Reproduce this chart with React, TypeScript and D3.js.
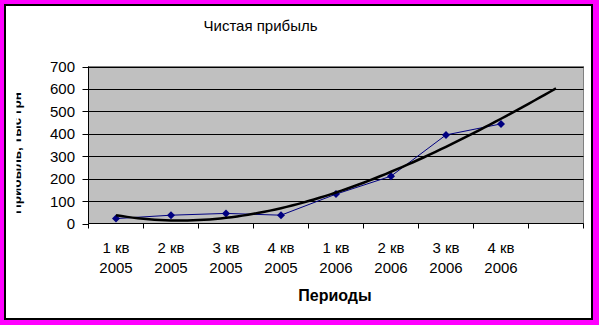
import React from "react";
import * as d3 from "d3";

const categories = ["1 кв|2005", "2 кв|2005", "3 кв|2005", "4 кв|2005", "1 кв|2006", "2 кв|2006", "3 кв|2006", "4 кв|2006", ""];
const profit = [22, 37, 45, 37, 131, 211, 395, 444];
const yTicks = [0, 100, 200, 300, 400, 500, 600, 700];
const chartTitle = "Чистая прибыль";
const xTitle = "Периоды";
const yTitle = "Прибыль, тыс грн";

// cubic least-squares trendline (like Excel polynomial, order 3), forecast 1 period forward
function polyFit(xs: number[], ys: number[], order: number): number[] {
  const n = order + 1;
  const A: number[][] = [];
  for (let i = 0; i < n; i++) {
    const row: number[] = [];
    for (let j = 0; j < n; j++) row.push(d3.sum(xs, (x) => Math.pow(x, i + j)));
    row.push(d3.sum(xs, (x, k) => Math.pow(x, i) * ys[k]));
    A.push(row);
  }
  for (let c = 0; c < n; c++) {
    let p = c;
    for (let r = c + 1; r < n; r++) if (Math.abs(A[r][c]) > Math.abs(A[p][c])) p = r;
    [A[c], A[p]] = [A[p], A[c]];
    for (let r = 0; r < n; r++) {
      if (r === c) continue;
      const f = A[r][c] / A[c][c];
      for (let k = c; k <= n; k++) A[r][k] -= f * A[c][k];
    }
  }
  return A.map((row, i) => row[n] / row[i]);
}

export default function App() {
  const W = 599, H = 325;
  const left = 88.5, right = 583.5, top = 66.5, bottom = 223.5;
  const x = d3.scaleBand<string>().domain(categories.map((_, i) => String(i))).range([left, right]);
  const cx = (i: number) => x(String(i))! + x.bandwidth() / 2;
  const xLin = d3.scaleLinear().domain([1, 2]).range([cx(0), cx(1)]);
  const y = d3.scaleLinear().domain([0, 700]).range([bottom, top]);

  const xs = profit.map((_, i) => i + 1);
  const coef = polyFit(xs, profit, 3);
  const evalP = (t: number) => coef.reduce((s, c, i) => s + c * Math.pow(t, i), 0);
  const trendPts: [number, number][] = d3.range(1, 9.0001, 0.1).map((t) => [xLin(t), y(evalP(t))]);
  const trendLine = d3.line()(trendPts) || "";
  const dataLine = d3.line<number>().x((_, i) => cx(i)).y((d) => y(d))(profit) || "";

  const font = "Arial, 'Liberation Sans', sans-serif";
  const ds = 4;

  return (
    <div style={{ position: "fixed", left: 0, top: 0, width: W, height: H }}>
      <svg width={W} height={H} style={{ display: "block" }} fontFamily={font}>
        <defs>
          <clipPath id="ytclip">
            <rect x={16.5} y={0} width={40} height={H} />
          </clipPath>
        </defs>
        <rect x={0} y={0} width={W} height={H} fill="#FF00FF" />
        <rect x={5} y={5} width={587} height={314} fill="#fff" stroke="#000" strokeWidth={2} />
        <text x={260.5} y={30.5} fontSize={15} textAnchor="middle" fill="#000">{chartTitle}</text>

        <rect x={left} y={top} width={right - left} height={bottom - top} fill="#C0C0C0" stroke="#808080" strokeWidth={1} />
        {yTicks.filter((t) => t > 0).map((t) => (
          <line key={t} x1={left} x2={right} y1={Math.round(y(t)) + 0.5} y2={Math.round(y(t)) + 0.5} stroke="#000" strokeWidth={1} />
        ))}
        <line x1={left} x2={left} y1={top} y2={bottom} stroke="#000" />
        <line x1={left} x2={right} y1={bottom} y2={bottom} stroke="#000" />
        {yTicks.map((t) => (
          <g key={t}>
            <line x1={left - 6} x2={left} y1={Math.round(y(t)) + 0.5} y2={Math.round(y(t)) + 0.5} stroke="#000" />
            <text x={75} y={y(t) + 5.5} fontSize={15} textAnchor="end" fill="#000">{t}</text>
          </g>
        ))}
        {categories.map((_, i) => (
          <line key={i} x1={x(String(i))!} x2={x(String(i))!} y1={bottom} y2={bottom + 5} stroke="#000" />
        ))}
        <line x1={right} x2={right} y1={bottom} y2={bottom + 5} stroke="#000" />
        {categories.map((c, i) => {
          const [a, b] = c.split("|");
          return (
            <text key={i} x={cx(i)} fontSize={15} textAnchor="middle" fill="#000">
              <tspan x={cx(i)} y={253}>{a}</tspan>
              <tspan x={cx(i)} y={272.5}>{b}</tspan>
            </text>
          );
        })}

        <path d={dataLine} fill="none" stroke="#000080" strokeWidth={1} />
        {profit.map((d, i) => (
          <path key={i} d={`M${cx(i)},${y(d) - ds}L${cx(i) + ds},${y(d)}L${cx(i)},${y(d) + ds}L${cx(i) - ds},${y(d)}Z`} fill="#000080" />
        ))}
        <path d={trendLine} fill="none" stroke="#000" strokeWidth={2.5} />

        <text x={335} y={301} fontSize={16} fontWeight="bold" textAnchor="middle" fill="#000">{xTitle}</text>
        <g clipPath="url(#ytclip)">
          <text transform={`translate(20.5,153) rotate(-90)`} fontSize={13.5} fontWeight="bold" textAnchor="middle" fill="#000">{yTitle}</text>
        </g>
      </svg>
    </div>
  );
}
